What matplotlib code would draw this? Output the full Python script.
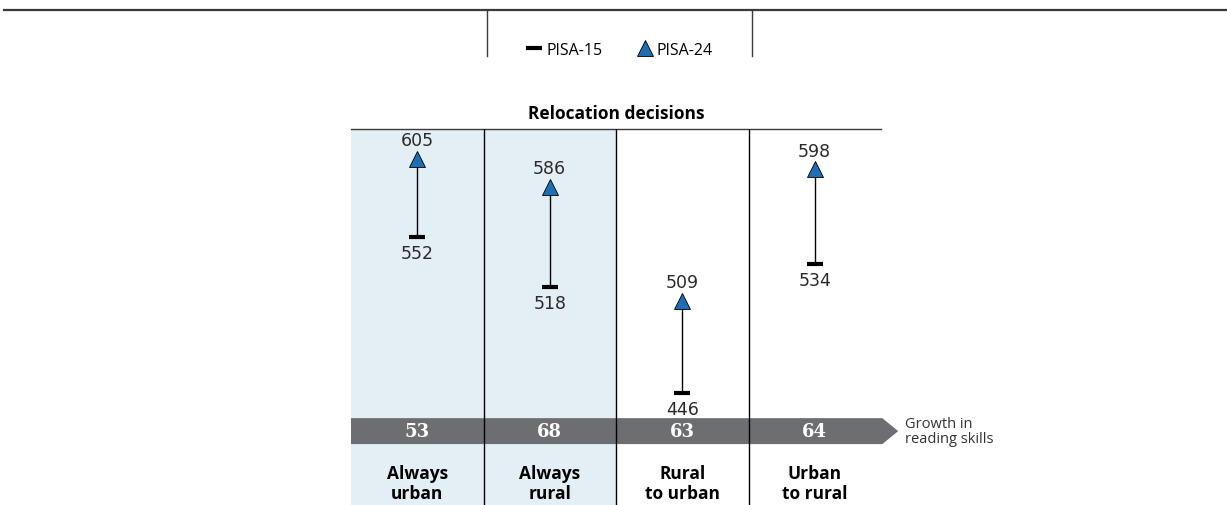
import matplotlib
matplotlib.use("Agg")
import matplotlib.pyplot as plt
from matplotlib.lines import Line2D
from matplotlib.patches import Polygon
from matplotlib.transforms import blended_transform_factory

plt.rcParams['font.family'] = ['Liberation Sans Narrow', 'Open Sans', 'DejaVu Sans']

# reading scores by relocation path
categories = ["Always\nurban", "Always\nrural", "Rural\nto urban", "Urban\nto rural"]
pisa15 = [552, 518, 446, 534]
pisa24 = [605, 586, 509, 598]
growth = [b - a for a, b in zip(pisa15, pisa24)]

W, H = 1227, 506
fig = plt.figure(figsize=(W / 100, H / 100), dpi=100)


def fx(px):
    return px / W


def fy(py):
    return 1 - py / H


blue = "#1f6db3"
shade = "#e4eef5"
band = "#6d6e71"

# header rule and legend box
fig.add_artist(Line2D([fx(4), 1], [fy(11), fy(11)], color="#3a3a3a", lw=1.6))
for x in (487, 752):
    fig.add_artist(Line2D([fx(x), fx(x)], [fy(11), fy(57)], color="#3a3a3a", lw=1))

handles = [
    Line2D([], [], color="black", marker="_", ls="none", markersize=11, markeredgewidth=3),
    Line2D([], [], color=blue, marker="^", ls="none", markersize=11,
           markeredgecolor="black", markeredgewidth=0.6),
]
fig.legend(handles, ["PISA-15", "PISA-24"], loc="center", ncol=2, frameon=False,
           bbox_to_anchor=(fx(620), fy(51)), fontsize=11.5, handlelength=0.9,
           handletextpad=0.3, columnspacing=2.2)

# main panel
ax = fig.add_axes([fx(351), 0, (881 - 351) / W, (506 - 130) / H])
ax.set_xlim(-0.5, 3.5)
ax.set_ylim(370.4, 625.3)
for s in ("left", "right", "bottom"):
    ax.spines[s].set_visible(False)
ax.spines["top"].set_linewidth(1)
ax.spines["top"].set_color("#3a3a3a")
ax.set_xticks([])
ax.set_yticks([])

ax.axvspan(-0.5, 1.5, color=shade, lw=0, zorder=0)

xs = range(len(categories))
for i in xs:
    ax.plot([i, i], [pisa15[i], pisa24[i]], color="black", lw=1, zorder=2)
ax.plot(xs, pisa15, ls="none", marker="_", color="black", markersize=11,
        markeredgewidth=3, zorder=3)
ax.plot(xs, pisa24, ls="none", marker="^", color=blue, markersize=11,
        markeredgecolor="black", markeredgewidth=0.6, zorder=3)

for i in xs:
    ax.annotate(str(pisa24[i]), (i, pisa24[i]), xytext=(0, 7), textcoords="offset points",
                ha="center", va="bottom", fontsize=12.5, family=["DejaVu Sans"],
                color="#2a2a2a")
    ax.annotate(str(pisa15[i]), (i, pisa15[i]), xytext=(0, -5), textcoords="offset points",
                ha="center", va="top", fontsize=12.5, family=["DejaVu Sans"],
                color="#2a2a2a")

ax.text(0.5, 1.018, "Relocation decisions", transform=ax.transAxes, ha="center",
        va="bottom", fontsize=12.5, fontweight="bold")

# growth arrow band
tr = blended_transform_factory(ax.transData, ax.transAxes)
y0, y1 = 0.162, 0.231
ym = (y0 + y1) / 2
arrow = Polygon([(-0.5, y0), (3.51, y0), (3.63, ym), (3.51, y1), (-0.5, y1)],
                closed=True, facecolor=band, edgecolor="none", transform=tr,
                clip_on=False, zorder=4)
ax.add_patch(arrow)
for i in xs:
    ax.text(i, ym, str(growth[i]), transform=tr, ha="center", va="center",
            color="white", fontsize=13, fontweight="bold", family=["DejaVu Serif"],
            zorder=6)
ax.text(3.68, ym, "Growth in\nreading skills", transform=tr, ha="left", va="center",
        fontsize=10.5, color="#333333", linespacing=1.0)

for x in (0.5, 1.5, 2.5):
    ax.axvline(x, color="black", lw=1, zorder=5)

for i, c in enumerate(categories):
    ax.text(i, 0.058, c, transform=tr, ha="center", va="center", fontsize=12.5,
            fontweight="bold", linespacing=1.15)

fig.savefig("out.png", dpi=100)
